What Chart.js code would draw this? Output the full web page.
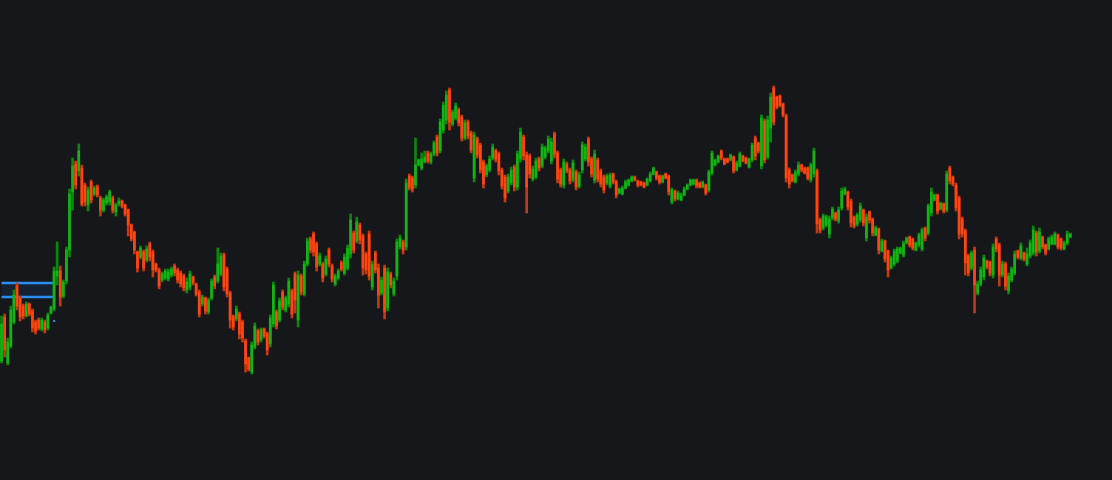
<!DOCTYPE html>
<html>
<head>
<meta charset="utf-8">
<title>Candles</title>
<script src="https://cdn.jsdelivr.net/npm/chart.js@4.4.0/dist/chart.umd.min.js"></script>
<style>
  html, body { margin: 0; padding: 0; background: #16171b; }
  #wrap { width: 1112px; height: 480px; position: relative; }
</style>
</head>
<body>
<div id="wrap"><canvas id="chart"></canvas></div>
<script>
// price, one entry per candle (347 candles, 360 slots)
const slotCount = 360;

const open = [
  139,183,137,154,178,214,202,194,184,196,
  189,178,180,171,178,172,187,191,224,229,
  204,219,250,308,336,329,332,315,295,318,
  306,313,302,290,297,298,302,288,296,299,
  295,290,275,268,248,243,248,240,256,248,
  236,230,220,222,221,225,234,230,227,224,
  210,213,223,216,208,196,202,188,202,223,
  219,226,245,231,207,184,181,186,178,159,
  142,128,153,169,160,171,166,156,176,188,
  180,208,190,196,209,226,180,224,206,236,
  261,266,256,236,236,226,250,234,216,222,
  237,227,232,246,267,259,275,264,246,266,
  213,247,232,207,232,192,226,206,224,253,
  258,253,324,322,315,335,332,338,347,338,
  346,363,349,370,380,410,376,382,390,383,
  362,378,367,322,361,355,338,325,330,342,
  349,346,330,323,309,317,333,313,341,363,
  345,344,321,323,341,334,343,349,339,366,
  347,330,315,336,330,320,328,314,330,341,
  361,341,320,340,329,323,317,314,326,318,
  307,306,312,315,319,323,319,318,317,315,
  319,326,328,324,318,326,324,298,309,301,
  300,305,311,315,316,320,317,313,315,310,
  327,335,338,349,341,341,340,343,330,334,
  344,342,333,340,362,357,334,379,343,372,
  412,403,404,396,384,330,325,318,326,335,
  332,332,320,326,329,280,272,275,266,282,
  287,279,292,306,308,299,283,276,280,290,
  262,288,281,265,271,249,259,249,232,236,
  239,247,245,257,263,261,250,255,251,272,
  267,287,300,305,291,296,290,332,323,315,
  302,281,269,244,232,250,207,216,223,239,
  238,225,261,255,225,236,209,220,227,249,
  242,247,236,244,247,267,249,263,255,251,
  256,256,265,261,251,257,263
];

const high = [
  184,186,162,194,210,217,204,196,198,197,
  191,180,182,182,180,187,194,233,258,234,
  220,253,311,342,339,356,335,317,313,320,
  314,315,304,302,305,310,304,297,302,300,
  296,291,276,269,249,254,250,254,258,250,
  237,232,228,231,231,233,236,232,229,226,
  222,229,224,217,210,205,203,202,221,225,
  252,247,247,233,209,185,194,188,180,161,
  143,158,177,171,172,172,168,185,218,190,
  202,210,204,222,211,228,229,226,239,262,
  263,268,258,247,238,244,252,236,226,231,
  239,246,255,286,269,283,277,266,248,269,
  239,249,236,223,235,232,228,222,261,265,
  260,321,326,324,362,341,347,349,349,348,
  359,365,381,398,409,412,390,397,392,385,
  380,380,369,368,363,357,340,336,344,356,
  351,348,332,325,326,333,335,349,372,365,
  348,346,334,342,343,356,354,364,362,368,
  349,332,341,338,332,340,330,328,358,356,
  363,343,350,342,331,325,326,327,327,320,
  312,314,320,321,324,324,320,319,318,322,
  328,333,329,325,325,327,325,312,310,309,
  307,313,316,321,321,321,318,319,316,330,
  349,341,345,350,342,342,346,344,339,348,
  345,343,342,357,364,358,385,381,384,407,
  414,404,405,397,386,332,326,330,338,336,
  333,333,337,352,331,282,286,285,284,293,
  288,293,312,313,309,301,284,287,297,291,
  286,289,282,274,272,261,260,250,244,251,
  253,253,259,263,264,262,258,267,272,273,
  296,312,306,306,298,297,329,334,324,317,
  304,283,271,246,249,253,219,233,245,240,
  239,256,263,257,239,238,227,233,249,250,
  257,248,252,260,274,269,272,264,256,263,
  265,268,266,262,259,269,267
];

const low = [
  137,143,135,152,176,190,179,181,183,184,
  168,166,170,169,167,170,186,189,215,194,
  202,216,243,290,311,324,294,294,289,297,
  304,303,284,288,295,295,287,284,294,292,
  284,264,259,246,228,241,229,238,239,223,
  228,211,218,220,219,223,224,217,213,209,
  207,210,215,204,183,194,186,186,200,211,
  217,224,209,203,172,170,179,161,158,128,
  129,126,151,155,158,162,145,153,173,171,
  178,190,188,193,182,187,173,205,204,234,
  247,244,229,234,218,224,233,218,214,220,
  229,225,230,242,247,257,256,225,226,220,
  210,227,192,205,181,189,212,204,220,251,
  246,250,310,308,312,334,330,337,337,336,
  344,344,347,367,376,370,374,380,374,359,
  360,361,347,318,342,327,312,323,328,340,
  338,325,311,298,307,315,309,310,338,340,
  287,322,319,321,329,332,341,347,336,342,
  317,313,312,327,316,318,310,312,327,339,
  334,323,317,318,313,307,315,312,316,302,
  306,305,311,314,318,319,313,314,312,314,
  318,325,320,316,317,321,305,296,299,300,
  299,304,310,314,315,312,312,312,305,308,
  325,334,337,340,335,337,339,327,329,333,
  338,336,332,338,340,347,331,337,341,358,
  375,391,393,383,318,312,318,317,324,328,
  326,320,318,323,267,267,270,273,262,280,
  279,277,290,305,290,273,272,274,278,274,
  259,277,264,264,246,248,238,223,231,234,
  237,246,243,256,253,250,249,253,249,259,
  265,284,299,286,290,287,288,316,314,289,
  261,263,225,224,230,187,205,214,220,231,
  224,222,248,214,223,210,206,218,225,241,
  240,239,234,242,245,244,247,251,245,250,
  255,255,251,250,250,255,262
];

const close = [
  176,150,158,190,205,194,183,184,196,186,
  172,169,172,180,170,185,193,229,229,203,
  218,250,306,334,315,349,296,298,310,300,
  312,305,290,300,303,308,290,295,299,294,
  286,275,261,250,232,252,232,251,243,230,
  230,214,226,229,228,231,227,220,216,212,
  218,226,217,206,186,203,189,200,219,214,
  236,244,213,206,180,173,191,166,162,136,
  131,155,174,158,170,164,150,182,215,174,
  199,193,202,219,186,200,225,208,236,259,
  250,248,233,244,222,241,236,221,224,229,
  231,243,252,280,250,278,260,232,230,224,
  236,230,205,220,188,228,215,219,258,262,
  250,317,312,311,335,340,341,343,339,346,
  357,347,378,395,405,378,388,394,377,362,
  377,364,350,365,345,330,316,334,341,353,
  341,329,314,302,323,330,313,346,368,344,
  313,326,331,339,332,353,352,361,358,346,
  321,316,338,329,319,337,313,325,355,353,
  338,326,346,321,316,310,324,325,318,305,
  311,312,318,320,323,320,315,315,313,321,
  326,332,322,318,324,322,308,310,301,307,
  305,311,315,320,320,314,313,318,307,328,
  347,340,344,342,336,338,345,329,337,346,
  339,337,341,355,344,349,382,340,380,403,
  378,393,395,385,322,316,319,328,335,330,
  327,322,335,349,276,270,284,283,281,291,
  281,290,309,311,293,277,274,285,294,277,
  283,280,267,272,250,259,241,230,242,249,
  251,252,257,262,255,252,257,265,270,262,
  294,308,305,289,297,289,326,319,316,292,
  266,266,237,227,247,215,216,230,242,233,
  227,253,251,225,236,214,224,231,246,243,
  254,241,246,257,270,248,268,253,247,261,
  263,266,253,252,257,266,266
];

// blue range box on the left and its marker
const bandTop = 217;
const bandBottom = 203;
const bandEnd = 17;
const markerIndex = 17;
const markerPrice = 179;

const upBody = "#13b413", upWick = "#0b870b";
const downBody = "#ff4510", downWick = "#c4390f";

const labels = Array.from({ length: slotCount }, (_, i) => i);
const isUp = i => close[i] >= open[i];

const bodies = open.map((o, i) => [o, close[i]]);
const wicks = low.map((l, i) => [l, high[i]]);
const bandUpper = labels.map(i => (i <= bandEnd ? bandTop : null));
const bandLower = labels.map(i => (i <= bandEnd ? bandBottom : null));
const marker = labels.map(i => (i === markerIndex ? markerPrice : null));

new Chart(document.getElementById("chart"), {
  type: "bar",
  data: {
    labels: labels,
    datasets: [
      {
        type: "line",
        data: marker,
        showLine: false,
        pointStyle: "rect",
        pointRadius: 1.5,
        pointHoverRadius: 1.5,
        pointBackgroundColor: "#1e88e5",
        pointBorderWidth: 0,
        order: 0
      },
      {
        data: bodies,
        backgroundColor: ctx => (isUp(ctx.dataIndex) ? upBody : downBody),
        barThickness: 2,
        borderWidth: 0,
        borderSkipped: false,
        grouped: false,
        order: 1
      },
      {
        data: wicks,
        backgroundColor: ctx => (isUp(ctx.dataIndex) ? upWick : downWick),
        barThickness: 2,
        borderWidth: 0,
        borderSkipped: false,
        grouped: false,
        order: 2
      },
      {
        type: "line",
        data: bandUpper,
        borderColor: "#2a8ff0",
        borderWidth: 2.5,
        pointRadius: 0,
        pointHoverRadius: 0,
        fill: false,
        spanGaps: false,
        order: 3
      },
      {
        type: "line",
        data: bandLower,
        borderColor: "#2a8ff0",
        borderWidth: 2.5,
        pointRadius: 0,
        pointHoverRadius: 0,
        fill: "-1",
        backgroundColor: "rgba(40, 90, 170, 0.16)",
        spanGaps: false,
        order: 4
      }
    ]
  },
  options: {
    responsive: true,
    maintainAspectRatio: false,
    animation: false,
    events: [],
    layout: { padding: 0, autoPadding: false },
    plugins: {
      legend: { display: false },
      tooltip: { enabled: false }
    },
    scales: {
      x: { display: false, offset: true, grid: { display: false } },
      y: { display: false, min: 20, max: 500, grid: { display: false } }
    }
  }
});
</script>
</body>
</html>
